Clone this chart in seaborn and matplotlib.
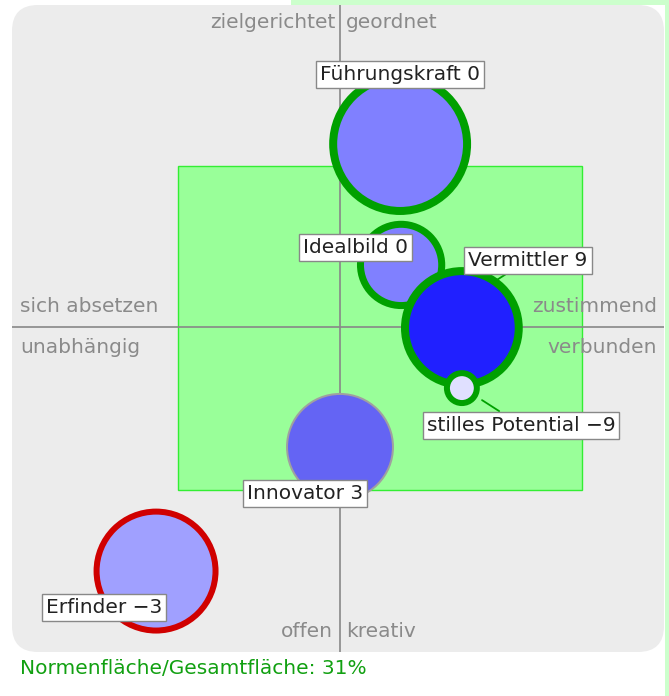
import matplotlib.pyplot as plt
import matplotlib.patches as mpatches
import seaborn as sns
import pandas as pd

# bubbles (chart units, centre cross at 0/0)
names = ["Führungskraft", "Idealbild", "Vermittler", "stilles Potential", "Innovator", "Erfinder"]
scores = [0, 0, 9, -9, 3, -3]
x_vals = [1.85, 1.88, 3.75, 3.75, 0.0, -5.66]
y_vals = [5.63, 1.91, -0.03, -1.88, -3.69, -7.51]
radius = [2.06, 1.25, 1.75, 0.46, 1.63, 1.83]

# label box positions
label_x = [1.85, 0.49, 5.78, 5.57, -1.08, -7.26]
label_y = [7.78, 2.46, 2.06, -3.02, -5.11, -8.62]

# norm area
norm_x = [-5.0, 7.45]
norm_y = [-5.0, 4.95]
norm_share = 31

# quadrant words
top_words = ["zielgerichtet", "geordnet"]
bottom_words = ["offen", "kreativ"]
left_words = ["sich absetzen", "unabhängig"]
right_words = ["zustimmend", "verbunden"]

df = pd.DataFrame({"name": names, "x": x_vals, "y": y_vals, "r": radius})

fill_colors = ["#8080ff", "#8080ff", "#2020ff", "#e0e0ff", "#6464f4", "#a0a0ff"]
edge_colors = ["#00a000", "#00a000", "#00a000", "#00a000", "#a0a0a0", "#d00000"]
edge_px = [8, 7, 8, 6, 2, 6]

W, H, DPI = 669, 696, 100
fig = plt.figure(figsize=(W / DPI, H / DPI), dpi=DPI)
fig.patch.set_facecolor("white")
fig.add_artist(mpatches.Rectangle((291 / W, 1 - 5 / H), 1, 5 / H, transform=fig.transFigure,
                                  facecolor="#ccffcc", edgecolor="none"))
fig.add_artist(mpatches.Rectangle((665 / W, 0), 4 / W, 1, transform=fig.transFigure,
                                  facecolor="#ccffcc", edgecolor="none"))

left, right, top, bottom = 12, 664, 5, 652
ax = fig.add_axes([left / W, 1 - bottom / H, (right - left) / W, (bottom - top) / H])
unit = 32.5
xlim = ((left - 340) / unit, (right - 340) / unit)
ylim = ((327 - bottom) / unit, (327 - top) / unit)
ax.set_xlim(xlim)
ax.set_ylim(ylim)
ax.axis("off")
ax.set_facecolor("none")

# gray rounded panel
ax.add_patch(mpatches.FancyBboxPatch((xlim[0], ylim[0]), xlim[1] - xlim[0], ylim[1] - ylim[0],
                                     boxstyle="round,pad=0,rounding_size=0.8",
                                     facecolor="#ececec", edgecolor="none", zorder=0))
# norm rectangle
ax.add_patch(mpatches.Rectangle((norm_x[0], norm_y[0]), norm_x[1] - norm_x[0], norm_y[1] - norm_y[0],
                                facecolor="#99ff99", edgecolor="#33ee33", lw=1, zorder=1))
# cross
ax.plot([0, 0], ylim, color="#888888", lw=1.2, zorder=2)
ax.plot(xlim, [0, 0], color="#888888", lw=1.2, zorder=2)

gray = "#8a8a8a"
fs = 14.5
ax.text(-0.15, 9.38, top_words[0], ha="right", va="center", color=gray, fontsize=fs, zorder=3)
ax.text(0.18, 9.38, top_words[1], ha="left", va="center", color=gray, fontsize=fs, zorder=3)
ax.text(-0.22, -9.38, bottom_words[0], ha="right", va="center", color=gray, fontsize=fs, zorder=3)
ax.text(0.18, -9.38, bottom_words[1], ha="left", va="center", color=gray, fontsize=fs, zorder=3)
ax.text(-9.85, 0.62, left_words[0], ha="left", va="center", color=gray, fontsize=fs, zorder=3)
ax.text(-9.85, -0.62, left_words[1], ha="left", va="center", color=gray, fontsize=fs, zorder=3)
ax.text(9.75, 0.62, right_words[0], ha="right", va="center", color=gray, fontsize=fs, zorder=3)
ax.text(9.75, -0.62, right_words[1], ha="right", va="center", color=gray, fontsize=fs, zorder=3)

# bubble sizes in points^2 from radius in chart units
px_per_unit = ax.get_position().width * W / (xlim[1] - xlim[0])
sizes = {n: (2 * r * px_per_unit * 72 / DPI) ** 2 for n, r in zip(names, radius)}
palette = dict(zip(names, fill_colors))

sns.scatterplot(data=df, x="x", y="y", hue="name", palette=palette, size="name", sizes=sizes,
                edgecolor=edge_colors, linewidth=[p * 72 / DPI for p in edge_px],
                legend=False, ax=ax, zorder=4)
ax.set_xlim(xlim)
ax.set_ylim(ylim)
ax.axis("off")

# labels
box = dict(boxstyle="square,pad=0.2", facecolor="white", edgecolor="#888888", lw=1)
connectors = {"Vermittler": (4.83, 1.45), "stilles Potential": (4.37, -2.25)}
for n, s, lx, ly in zip(names, scores, label_x, label_y):
    txt = f"{n} {s}".replace("-", "\u2212")
    if n in connectors:
        ax.annotate(txt, xy=connectors[n], xytext=(lx, ly), ha="center", va="center",
                    fontsize=fs, color="#222222", bbox=box, zorder=5,
                    arrowprops=dict(arrowstyle="-", color="#00a000", lw=1.3, shrinkA=0, shrinkB=0))
    else:
        ax.text(lx, ly, txt, ha="center", va="center", fontsize=fs, color="#222222",
                bbox=box, zorder=5)

fig.text(20 / W, 1 - 669 / H, f"Normenfläche/Gesamtfläche: {norm_share}%", color="#11a011",
         fontsize=fs, ha="left", va="center")

fig.savefig("out.png", dpi=DPI)
